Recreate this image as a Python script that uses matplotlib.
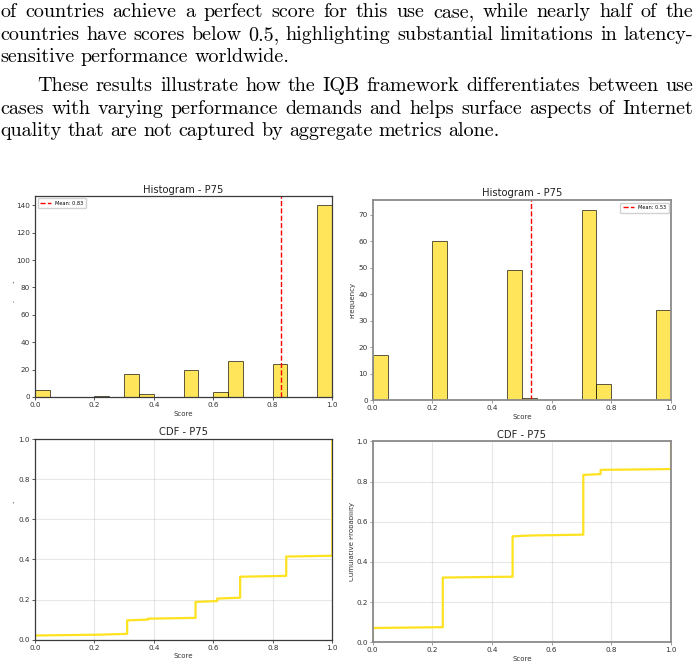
import matplotlib
matplotlib.use('Agg')
import matplotlib.pyplot as plt
import numpy as np
from matplotlib.transforms import Bbox, TransformedBbox

W, H = 699, 670

# paragraph text above the figures (last line of each paragraph is not justified)
para_lines = [
    'of countries achieve a perfect score for this use case, while nearly half of the',
    'countries have scores below 0.5, highlighting substantial limitations in latency-',
    'sensitive performance worldwide.',
    'These results illustrate how the IQB framework differentiates between use',
    'cases with varying performance demands and helps surface aspects of Internet',
    'quality that are not captured by aggregate metrics alone.',
]
para_justify = [True, True, False, True, True, False]
para_indent = [0, 0, 0, 37, 0, 0]

# scores per country (distinct values and how many countries have each)
left_scores = [0.0, 0.22, 0.31, 0.38, 0.54, 0.613, 0.69, 0.845, 1.0]
left_counts = [5, 1, 17, 2, 20, 4, 26, 24, 140]
right_scores = [0.0, 0.235, 0.469, 0.53, 0.706, 0.764, 1.0]
right_counts = [17, 60, 49, 1, 72, 6, 34]


def px_axes(fig, left, top, right, bottom):
    return fig.add_axes([left / W, 1 - bottom / H, (right - left) / W, (bottom - top) / H])


def place_line(fig, renderer, text, x0, x1, baseline, justify, size):
    words = text.split()
    items = [fig.text(0, 1 - baseline / H, w, fontsize=size, family='cmr10',
                      va='baseline', color='black') for w in words]
    widths = [t.get_window_extent(renderer).width for t in items]
    if justify:
        gap = (x1 - x0 - sum(widths)) / (len(words) - 1)
    else:
        gap = size * 100 / 72 * 0.3
    x = x0
    for t, w in zip(items, widths):
        t.set_x(x / W)
        x += w + gap


def clipped_label(fig, text, x_right, y_center, clip_x0, size=5):
    t = fig.text(x_right / W, 1 - y_center / H, text, rotation=90, ha='right',
                 va='center', fontsize=size, color='#333333')
    t.set_clip_box(TransformedBbox(Bbox.from_extents(clip_x0 / W, 0, 1, 1), fig.transFigure))
    t.set_clip_on(True)


def style_axes(ax, spine_color, spine_width):
    for s in ax.spines.values():
        s.set_color(spine_color)
        s.set_linewidth(spine_width)
    ax.tick_params(labelsize=5.2, length=2, width=0.6, pad=1.5,
                   color=spine_color, labelcolor='#333333')


def draw_hist(ax, data, loc, title_pad):
    ax.hist(data, bins=20, range=(0, 1), color='gold', alpha=0.65,
            edgecolor='black', linewidth=0.7)
    m = data.mean()
    ax.axvline(m, color='red', linestyle='--', linewidth=1.0, label='Mean: {:.2f}'.format(m))
    ax.set_xlim(0, 1)
    ax.set_title('Histogram - P75', fontsize=7.2, pad=title_pad, color='#222222')
    ax.set_xlabel('Score', fontsize=5, labelpad=2, color='#333333')
    ax.legend(loc=loc, fontsize=3.6, handlelength=2.2, borderpad=0.5,
              framealpha=0.9, edgecolor='#cccccc', fancybox=True)


def draw_cdf(ax, data, title_pad):
    xs = np.sort(data)
    ys = np.arange(1, len(xs) + 1) / len(xs)
    ax.plot(xs, ys, color='#FFE21F', linewidth=1.6)
    ax.set_xlim(0, 1)
    ax.set_ylim(0, 1)
    ax.grid(True, alpha=0.3)
    ax.set_title('CDF - P75', fontsize=7.2, pad=title_pad, color='#222222')
    ax.set_xlabel('Score', fontsize=5, labelpad=2, color='#333333')


fig = plt.figure(figsize=(W / 100, H / 100), dpi=100)
renderer = fig.canvas.get_renderer()

baselines = [17.0, 40.0, 62.5, 91.0, 113.5, 136.0]
for line, just, ind, base in zip(para_lines, para_justify, para_indent, baselines):
    place_line(fig, renderer, line, 0.5 + ind, 693, base, just, 14.5)

left_data = np.repeat(left_scores, left_counts)
right_data = np.repeat(right_scores, right_counts)

ax1 = px_axes(fig, 35, 195.7, 332, 397)
draw_hist(ax1, left_data, 'upper left', 2.3)
style_axes(ax1, '#3a3a3a', 0.9)

ax2 = px_axes(fig, 372.7, 200, 671, 400.3)
draw_hist(ax2, right_data, 'upper right', 2.7)
style_axes(ax2, '#8a8a8a', 1.3)

ax3 = px_axes(fig, 35, 439, 332.3, 639.7)
draw_cdf(ax3, left_data, 3.2)
style_axes(ax3, '#3a3a3a', 0.9)

ax4 = px_axes(fig, 372.7, 441.3, 671, 642.3)
draw_cdf(ax4, right_data, 2.7)
style_axes(ax4, '#8a8a8a', 1.3)

# y labels are mostly cut off in the source screenshot
clipped_label(fig, 'Frequency', 14.5, 296, 13.2)
clipped_label(fig, 'Cumulative Probability', 15.0, 539, 12.9)
clipped_label(fig, 'Frequency', 355.5, 300, 349.5)
clipped_label(fig, 'Cumulative Probability', 355.5, 541.7, 349.0)

fig.savefig('out.png', dpi=100)
